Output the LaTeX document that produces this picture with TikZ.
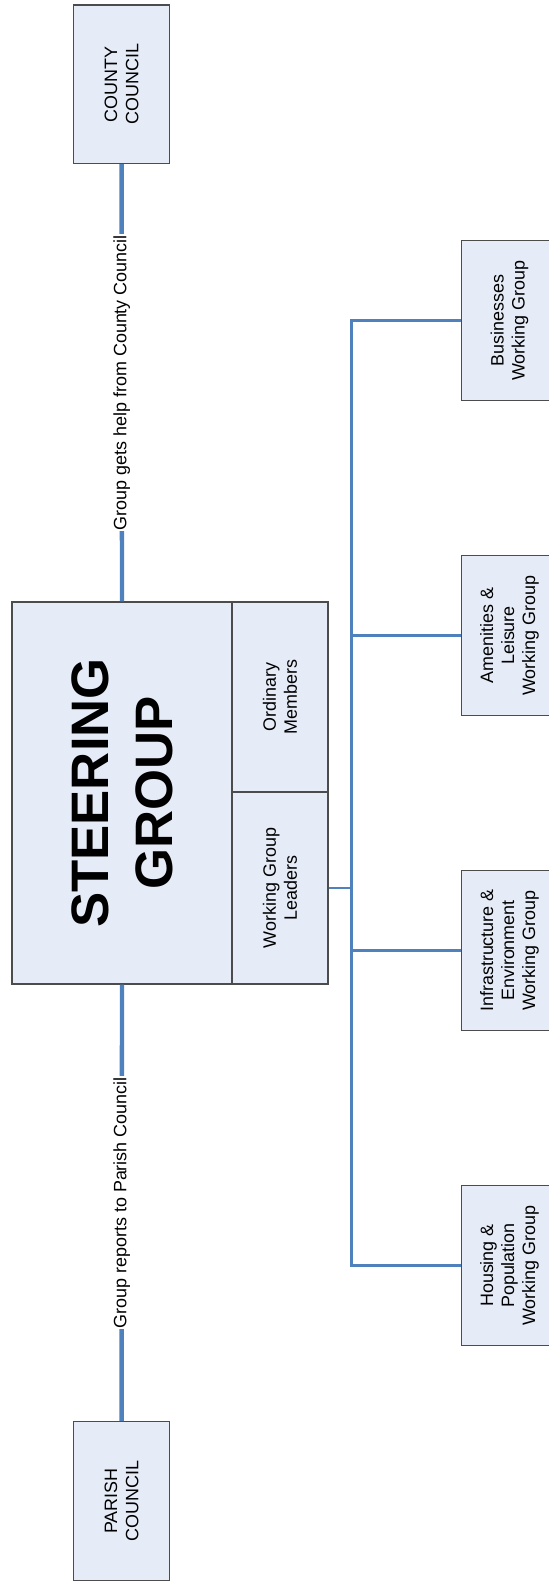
\documentclass[tikz,border=0pt]{standalone}
\usepackage{fontspec}
\setmainfont{Liberation Sans}
\definecolor{boxfill}{RGB}{230,236,247}
\definecolor{linkblue}{RGB}{79,129,189}
\tikzset{
  orgbox/.style={draw=black!70, line width=0.8pt, fill=boxfill, rotate=90,
    align=center, inner sep=0pt, font=\fontsize{10.2}{12}\selectfont},
  council/.style={orgbox, minimum width=3.17cm, minimum height=1.92cm},
  wgroup/.style={orgbox, minimum width=3.2cm, minimum height=1.92cm},
  mainlink/.style={linkblue, line width=2.5pt},
  sublink/.style={linkblue, line width=1.5pt},
  linklabel/.style={fill=white, text=black, rotate=90, inner xsep=0.5pt, inner ysep=1pt,
    font=\fontsize{10.2}{12}\selectfont},
}

\begin{document}
\begin{tikzpicture}
    \useasboundingbox (0,0) rectangle (10.98,-31.62);
    % councils
    \node[council] (county) at (2.432,-1.684) {COUNTY\\COUNCIL};
    \node[council] (parish) at (2.432,-30.02) {PARISH\\COUNCIL};
    % steering group and its two parts
    \node[orgbox, minimum width=7.64cm, minimum height=4.40cm,
      font=\fontsize{30}{36.5}\selectfont\bfseries] (steering) at (2.44,-15.86) {STEERING\\GROUP};
    \node[orgbox, minimum width=3.80cm, minimum height=1.92cm] (ordinary) at (5.60,-13.94) {Ordinary\\Members};
    \node[orgbox, minimum width=3.84cm, minimum height=1.92cm] (leaders) at (5.60,-17.76) {Working Group\\Leaders};
    % working groups
    \node[wgroup] (wgbiz) at (10.19,-6.41) {Businesses\\Working Group};
    \node[wgroup] (wgamen) at (10.19,-12.71) {Amenities \&\\Leisure\\Working Group};
    \node[wgroup] (wginfra) at (10.19,-19.01) {Infrastructure \&\\Environment\\Working Group};
    \node[wgroup] (wghouse) at (10.19,-25.31) {Housing \&\\Population\\Working Group};
    \draw[mainlink] (steering.east) -- node[linklabel] {Group gets help from County Council} (county.west);
    \draw[mainlink] (parish.east) -- node[linklabel] {Group reports to Parish Council} (steering.west);
    \draw[sublink] (leaders.south) -- ++(0.46,0) coordinate (hub);
    \draw[sublink] (wgbiz.north) -- (hub |- wgbiz.north) -- (hub |- wghouse.north) -- (wghouse.north);
    \foreach \wg in {wgamen,wginfra}
      \draw[sublink] (hub |- \wg.north) -- (\wg.north);
\end{tikzpicture}
\end{document}
